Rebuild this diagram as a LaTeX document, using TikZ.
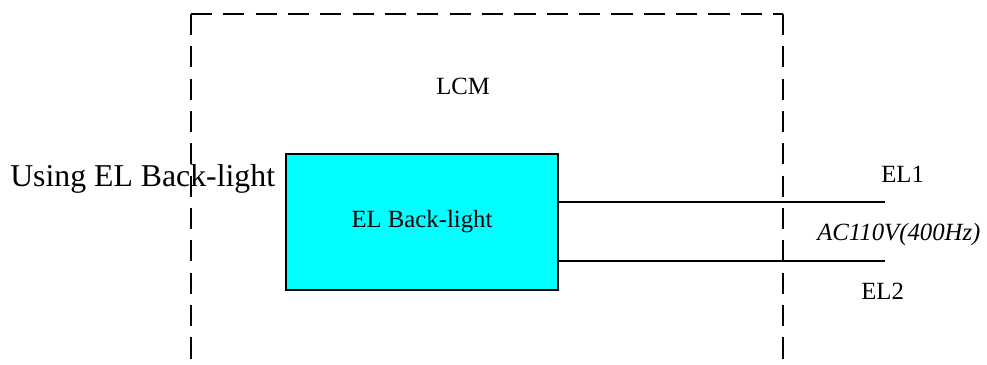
\documentclass[tikz,border=0pt]{standalone}
\usepackage{fontspec}
\setmainfont{Liberation Serif}
\usepackage{tikz}
\usetikzlibrary{positioning,calc}
\definecolor{panelcyan}{RGB}{0,255,255}
\tikzset{
  lbl/.style={inner sep=0pt,anchor=base west,font=\fontsize{17.6}{20}\selectfont},
  frame/.style={line width=1.5pt,dash pattern=on 15pt off 8pt},
  wire/.style={line width=1.5pt},
  panel/.style={draw,line width=1.5pt,fill=panelcyan,minimum width=6.8cm,minimum height=3.4cm,inner sep=0pt,font=\fontsize{17.6}{20}\selectfont}
}
\begin{document}
\begin{tikzpicture}[x=0.025cm,y=-0.025cm]
\useasboundingbox (0,0) rectangle (987,365);
\draw[frame] (191,14) -- (783,14);
\draw[frame] (191,14) -- (191,365);
\draw[frame] (783,14) -- (783,365);
\node[panel] (elbl) at (422,222) {\raisebox{-3pt}{EL Back-light}};
\coordinate (el1) at (885,202);
\coordinate (el2) at (885,261);
\draw[wire] (el1 -| elbl.east) -- (el1);
\draw[wire] (el2 -| elbl.east) -- (el2);
\node[lbl] (lcm) at (436,95) {LCM};
\node[lbl,font=\fontsize{22.6}{26}\selectfont] (using) at (10,187) {Using EL Back-light};
\node[lbl] (lel1) at (881,183) {EL1};
\node[lbl,font=\fontsize{17.6}{20}\selectfont\itshape] (ac) at (817,241) {AC110V(400Hz)};
\node[lbl] (lel2) at (861,300) {EL2};
\end{tikzpicture}
\end{document}
